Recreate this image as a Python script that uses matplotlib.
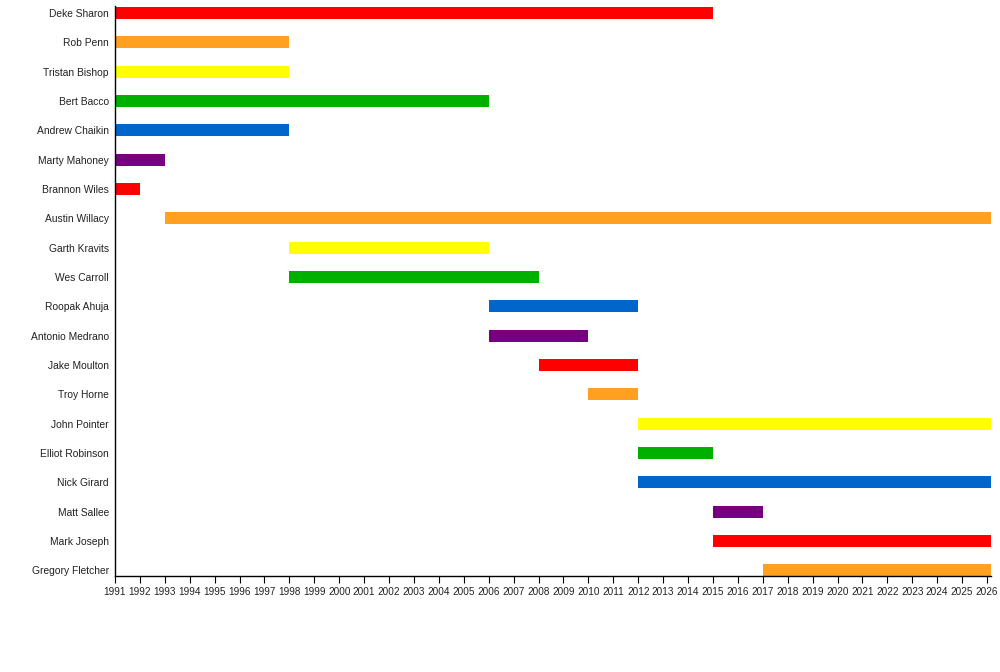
import matplotlib
matplotlib.use("Agg")
import matplotlib.pyplot as plt

# --- DATA ---
members = [
    "Deke Sharon", "Rob Penn", "Tristan Bishop", "Bert Bacco", "Andrew Chaikin",
    "Marty Mahoney", "Brannon Wiles", "Austin Willacy", "Garth Kravits", "Wes Carroll",
    "Roopak Ahuja", "Antonio Medrano", "Jake Moulton", "Troy Horne", "John Pointer",
    "Elliot Robinson", "Nick Girard", "Matt Sallee", "Mark Joseph", "Gregory Fletcher",
]
NOW = 2026.16  # bars still running end at "today"
start_years = [1991, 1991, 1991, 1991, 1991, 1991, 1991, 1993, 1998, 1998,
               2006, 2006, 2008, 2010, 2012, 2012, 2012, 2015, 2015, 2017]
end_years = [2015, 1998, 1998, 2006, 1998, 1993, 1992, NOW, 2006, 2008,
             2012, 2010, 2012, 2012, NOW, 2015, NOW, 2017, NOW, NOW]
years = list(range(1991, 2027))

palette = ["#ff0000", "#ffa020", "#ffff00", "#00b000", "#0066cc", "#770080"]

plt.rcParams["font.family"] = ["Liberation Sans", "DejaVu Sans"]

fig = plt.figure(figsize=(10, 6.72), dpi=100)
ax = fig.add_axes([0.115, 1 - 576 / 672, 0.991 - 0.115, (576 - 6) / 672])

for i, (s, e) in enumerate(zip(start_years, end_years)):
    ax.barh(i, e - s, left=s, height=0.41, color=palette[i % len(palette)],
            edgecolor="none")

ax.set_xlim(1991, NOW)
ax.set_ylim(19.19, -0.24)
ax.set_xticks(years)
ax.set_xticklabels([str(y) for y in years], fontsize=7.2, color="#222222")
ax.set_yticks(range(len(members)))
ax.set_yticklabels(members, fontsize=7.4, color="#222222")
ax.tick_params(axis="x", length=5, width=0.8, pad=3)
ax.tick_params(axis="y", length=0, pad=4.5)

for side in ("top", "right"):
    ax.spines[side].set_visible(False)
for side in ("left", "bottom"):
    ax.spines[side].set_linewidth(1.0)
    ax.spines[side].set_color("black")

fig.savefig("out.png", dpi=100)
